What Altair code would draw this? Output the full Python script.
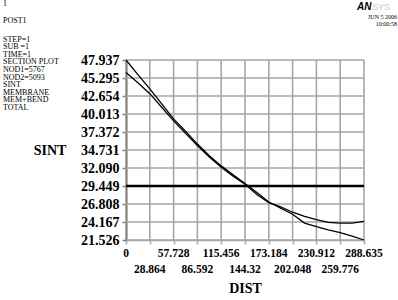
import altair as alt
import pandas as pd

# ---- data ----
dist = [0, 14.43, 28.864, 43.30, 57.728, 72.16, 86.592, 101.02, 115.456, 129.89,
        144.32, 158.75, 173.184, 187.62, 202.048, 216.48, 230.912, 245.34, 259.776,
        274.21, 288.635]
total = [47.937, 45.8, 43.7, 41.5, 39.3, 37.5, 35.6, 33.9, 32.4, 31.1,
         29.8, 28.5, 27.1, 26.2, 25.3, 24.0, 23.5, 23.0, 22.6, 22.1, 21.526]
mem_bend = [46.1, 44.6, 43.0, 41.0, 39.0, 37.2, 35.4, 33.7, 32.2, 30.9,
            29.7, 28.2, 27.0, 26.4, 25.6, 25.0, 24.5, 24.1, 24.0, 24.0, 24.25]
membrane_dist = [0, 288.635]
membrane = [29.449, 29.449]

y_ticks = [47.937, 45.295, 42.654, 40.013, 37.372, 34.731, 32.090, 29.449,
           26.808, 24.167, 21.526]
x_ticks = [0, 28.864, 57.728, 86.592, 115.456, 144.32, 173.184, 202.048,
           230.912, 259.776, 288.635]
x_tick_labels = ["0", "28.864", "57.728", "86.592", "115.456", "144.32",
                 "173.184", "202.048", "230.912", "259.776", "288.635"]

info_block = ["STEP=1", "SUB =1", "TIME=1", "SECTION PLOT", "NOD1=5767",
              "NOD2=5093", "SINT", "MEMBRANE", "MEM+BEND", "TOTAL"]

n = len(dist)
df = pd.DataFrame({
    "dist": dist + dist,
    "value": total + mem_bend,
    "series": ["TOTAL"] * n + ["MEM+BEND"] * n,
})
df_mem = pd.DataFrame({"dist": membrane_dist, "value": membrane})
lab = pd.DataFrame({"dist": x_ticks, "label": x_tick_labels,
                    "row": [i % 2 for i in range(len(x_ticks))]})
gx = pd.DataFrame({"dist": x_ticks})
gy = pd.DataFrame({"value": y_ticks})

xs = alt.Scale(domain=[0, 288.635], nice=False, zero=False)
ys = alt.Scale(domain=[21.526, 47.937], nice=False, zero=False)
SERIF = "Liberation Serif"
GRID = "#a6a6a6"

x_axis = alt.Axis(values=x_ticks, labels=False, grid=False, domain=True,
                  domainColor=GRID, domainWidth=1.5, ticks=True, tickColor=GRID,
                  tickWidth=1.5, tickSize=4, title="DIST", titleFont=SERIF,
                  titleFontSize=14, titleFontWeight="bold", titleColor="black",
                  titleX=119, titleY=48, titleAlign="center",
                  titleBaseline="middle")
y_axis = alt.Axis(values=y_ticks, format=".3f", grid=False,
                  domainColor="black", domainWidth=1.6, tickColor="#808080",
                  tickWidth=1.5, tickSize=4, ticks=True,
                  labelPadding=3, labelOverlap=False, labelFont=SERIF,
                  labelFontSize=14, labelFontWeight="bold", labelColor="black",
                  title="SINT", titleFont=SERIF, titleFontSize=14,
                  titleFontWeight="bold", titleColor="black", titleAngle=0,
                  titleX=-76.5, titleY=90, titleAlign="center",
                  titleBaseline="middle")

X = alt.X("dist:Q", scale=xs, axis=x_axis)
Y = alt.Y("value:Q", scale=ys, axis=y_axis)

# grid drawn as filled ticks through the scales
grid_v = alt.Chart(gx).mark_tick(color=GRID, thickness=1.6, size=180,
                                 orient="vertical", opacity=1).encode(x=X)
grid_h = alt.Chart(gy).mark_tick(color=GRID, thickness=1.6, size=238,
                                 orient="horizontal", opacity=1).encode(y=Y)

lines = alt.Chart(df).mark_line(color="black", strokeWidth=1.3).encode(
    x=X, y=Y, detail="series:N")
mem_line = alt.Chart(df_mem).mark_line(color="black", strokeWidth=2.3).encode(
    x=X, y=Y)

row0 = alt.Chart(lab[lab.row == 0]).mark_text(
    font=SERIF, fontSize=11.5, fontWeight="bold", baseline="middle", color="black"
).encode(x=X, y=alt.value(193.5), text="label:N")
row1 = alt.Chart(lab[lab.row == 1]).mark_text(
    font=SERIF, fontSize=11.5, fontWeight="bold", baseline="middle", color="black"
).encode(x=X, y=alt.value(209.5), text="label:N")

one = pd.DataFrame({"a": [0]})
t_1 = alt.Chart(one).mark_text(text="1", font=SERIF, fontSize=8, align="left",
                               baseline="alphabetic", color="black").encode(
    x=alt.value(-123), y=alt.value(-54))
t_post = alt.Chart(one).mark_text(text="POST1", font=SERIF, fontSize=8, align="left",
                                  baseline="alphabetic", color="black").encode(
    x=alt.value(-123), y=alt.value(-37.5))
t_block = alt.Chart(one).mark_text(text=info_block, font=SERIF, fontSize=8,
                                   lineHeight=7.6, align="left",
                                   baseline="alphabetic", color="black").encode(
    x=alt.value(-123), y=alt.value(-18.3))
t_an = alt.Chart(one).mark_text(text="AN", font="Liberation Sans", fontSize=10,
                                fontWeight="bold", fontStyle="italic", align="left",
                                baseline="alphabetic", color="black").encode(
    x=alt.value(231), y=alt.value(-50))
t_sys = alt.Chart(one).mark_text(text="SYS", font="Liberation Sans", fontSize=9,
                                 align="left", baseline="alphabetic",
                                 color="#c8c8c8").encode(
    x=alt.value(246), y=alt.value(-50))
t_date = alt.Chart(one).mark_text(text="JUN 5 2006", font=SERIF, fontSize=6,
                                  align="right", baseline="middle",
                                  color="black").encode(
    x=alt.value(271), y=alt.value(-43))
t_time = alt.Chart(one).mark_text(text="10:00:58", font=SERIF, fontSize=6,
                                  align="right", baseline="middle",
                                  color="black").encode(
    x=alt.value(271), y=alt.value(-36.5))

chart = alt.layer(grid_v, grid_h, lines, mem_line, row0, row1, t_1, t_post,
                  t_block, t_an, t_sys, t_date, t_time).properties(
    width=238, height=180,
    autosize=alt.AutoSizeParams(type="none"),
    padding={"left": 126, "top": 60, "right": 34, "bottom": 60},
    background="white",
).configure_view(stroke=None)

chart.save("out.html", embed_options={"renderer": "svg", "actions": False})
